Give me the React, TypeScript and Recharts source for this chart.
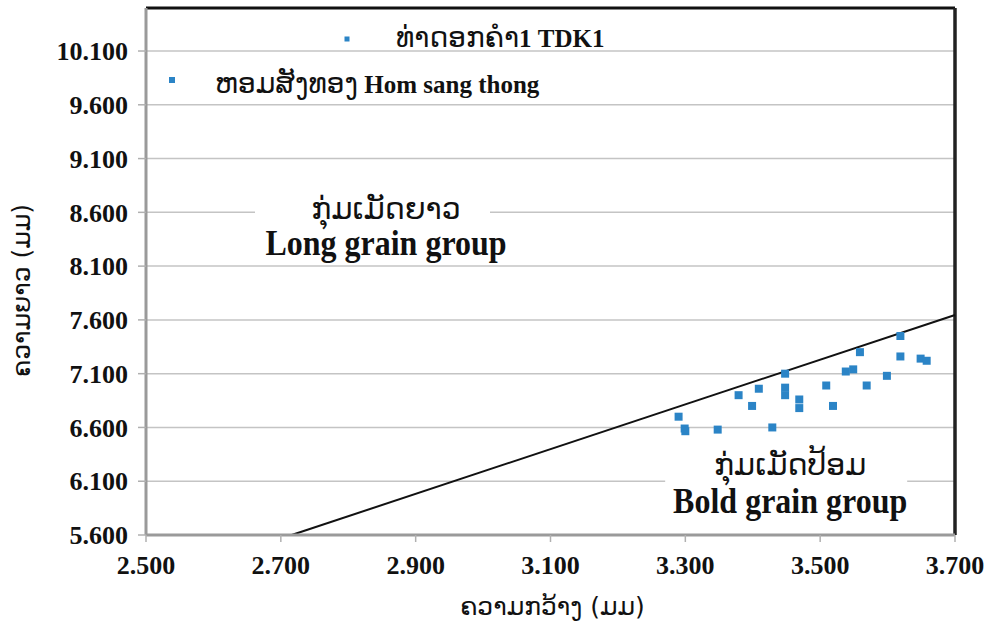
import React from 'react';
import {
  ScatterChart,
  Scatter,
  XAxis,
  YAxis,
  ZAxis,
  CartesianGrid,
  ReferenceLine,
  ReferenceDot,
  Legend,
} from 'recharts';

// ---------- data ----------
const xTicks = [2.5, 2.7, 2.9, 3.1, 3.3, 3.5, 3.7];
const yTicks = [5.6, 6.1, 6.6, 7.1, 7.6, 8.1, 8.6, 9.1, 9.6, 10.1];
const xDomain = [2.5, 3.7];
const yDomain = [5.6, 10.5];

const tdk1Name = ['ທ່າດອກຄຳ', '1 TDK1'];
const homName = ['ຫອມສັງທອງ', ' Hom sang thong'];

const tdk1Width = [3.29, 3.299, 3.348, 3.379, 3.399, 3.409, 3.429, 3.448, 3.448, 3.448, 3.469, 3.469, 3.509, 3.519, 3.538, 3.549, 3.559, 3.569, 3.599, 3.619, 3.619, 3.649, 3.658];
const tdk1Length = [6.70, 6.59, 6.58, 6.90, 6.80, 6.96, 6.60, 7.10, 6.97, 6.90, 6.86, 6.78, 6.99, 6.80, 7.12, 7.14, 7.30, 6.99, 7.08, 7.45, 7.26, 7.24, 7.22];
const homWidth = [3.30];
const homLength = [6.565];

const boundaryWidth = [2.716, 3.7];
const boundaryLength = [5.6, 7.646];

const longLabel = ['ກຸ່ມເມັດຍາວ', 'Long grain group'];
const longAnchor = { x: 2.856, y: 8.6 };
const boldLabel = ['ກຸ່ມເມັດປ້ອມ', 'Bold grain group'];
const boldAnchor = { x: 3.4555, y: 6.1 };

const xTitle = 'ຄວາມກວ້າງ (ມມ)';
const yTitle = 'ຄວາມຍາວ (ມມ)';

// ---------- styles ----------
const SERIF = "'Liberation Serif', 'Times New Roman', serif";
const LAO = "'DejaVu Sans', 'Noto Sans', sans-serif";
const BLUE = '#2b84c6';

const tdk1Data = tdk1Width.map((w, i) => ({ w, l: tdk1Length[i] }));
const homData = homWidth.map((w, i) => ({ w, l: homLength[i] }));

const fmt = (v: number) => v.toFixed(3);

const AnnotationShape = (lines: string[], gapLeft: number, gapRight: number, laoDy: number, engDy: number) =>
  (props: any) => {
    const { cx, cy } = props;
    if (cx == null || cy == null) return <g />;
    return (
      <g>
        <rect x={cx - gapLeft} y={cy - 18} width={gapLeft + gapRight} height={24} fill="#fff" />
        <text x={cx} y={cy + laoDy} textAnchor="middle" fontFamily={LAO} fontSize={30} fill="#111">
          {lines[0]}
        </text>
        <text
          x={cx}
          y={cy + engDy}
          textAnchor="middle"
          fontFamily={SERIF}
          fontWeight="bold"
          fontSize={32}
          fill="#111"
          transform={`translate(0 ${-(cy + engDy) * 0.12}) scale(1 1.12)`}
        >
          {lines[1]}
        </text>
      </g>
    );
  };

const LegendContent = () => (
  <svg width={992} height={110} style={{ position: 'absolute', left: 0, top: 0, overflow: 'visible' }}>
    <rect x={344.5} y={36.5} width={5} height={5} fill={BLUE} />
    <text x={396} y={47} fill="#111" fontSize={28}>
      <tspan fontFamily={LAO}>{tdk1Name[0]}</tspan>
      <tspan fontFamily={SERIF} fontWeight="bold" fontSize={25}>{tdk1Name[1]}</tspan>
    </text>
    <rect x={169} y={77} width={6} height={6} fill={BLUE} />
    <text x={215} y={93} fill="#111" fontSize={28}>
      <tspan fontFamily={LAO}>{homName[0]}</tspan>
      <tspan fontFamily={SERIF} fontWeight="bold" fontSize={25}>{homName[1]}</tspan>
    </text>
  </svg>
);

const XTitle = (props: any) => {
  const vb = props.viewBox || { x: 146, y: 535, width: 809, height: 90 };
  return (
    <text x={vb.x + vb.width / 2 + 2} y={vb.y + 80} textAnchor="middle" fontFamily={LAO} fontSize={25} fill="#111">
      {xTitle}
    </text>
  );
};

const YTitle = (props: any) => {
  const vb = props.viewBox || { x: 0, y: 8, width: 146, height: 527 };
  const cx = vb.x + 21;
  const cy = vb.y + vb.height / 2 + 19;
  return (
    <text
      x={cx}
      y={cy}
      transform={`rotate(-90 ${cx} ${cy})`}
      textAnchor="middle"
      dominantBaseline="central"
      fontFamily={LAO}
      fontSize={25}
      fill="#111"
    >
      {yTitle}
    </text>
  );
};

export default function App() {
  return (
    <div style={{ position: 'absolute', left: 0, top: 0, width: 992, height: 625, background: '#fff' }}>
      <ScatterChart width={992} height={625} margin={{ top: 8, right: 37, bottom: 0, left: 0 }}>
        <CartesianGrid horizontal vertical={false} stroke="#c4c4c4" strokeWidth={1.5} />
        <XAxis
          type="number"
          dataKey="w"
          domain={xDomain}
          ticks={xTicks}
          tickFormatter={fmt}
          allowDataOverflow
          height={90}
          axisLine={{ stroke: '#9a9a9a', strokeWidth: 3 }}
          tickLine={{ stroke: '#b0b0b0', strokeWidth: 1.5 }}
          tickSize={7}
          tickMargin={14}
          tick={{ fill: '#111', fontFamily: SERIF, fontWeight: 'bold', fontSize: 26 }}
          label={<XTitle />}
        />
        <YAxis
          type="number"
          dataKey="l"
          domain={yDomain}
          ticks={yTicks}
          tickFormatter={fmt}
          allowDataOverflow
          width={146}
          axisLine={{ stroke: '#9a9a9a', strokeWidth: 3 }}
          tickLine={{ stroke: '#b0b0b0', strokeWidth: 1.5 }}
          tickSize={8}
          tickMargin={10}
          tick={{ fill: '#111', fontFamily: SERIF, fontWeight: 'bold', fontSize: 26 }}
          label={<YTitle />}
        />
        <ZAxis range={[36, 36]} />
        <Legend content={<LegendContent />} wrapperStyle={{ position: 'absolute', left: 0, top: 0, width: 992, height: 0 }} />
        <ReferenceLine y={yDomain[1]} stroke="#111" strokeWidth={3} />
        <ReferenceLine x={xDomain[1]} stroke="#222" strokeWidth={3.5} />
        <ReferenceDot
          x={longAnchor.x}
          y={longAnchor.y}
          r={0}
          shape={AnnotationShape(longLabel, 131, 104, 7, 43)}
        />
        <ReferenceDot
          x={boldAnchor.x}
          y={boldAnchor.y}
          r={0}
          shape={AnnotationShape(boldLabel, 125, 117, -6, 32)}
        />
        <ReferenceLine
          segment={[
            { x: boundaryWidth[0], y: boundaryLength[0] },
            { x: boundaryWidth[1], y: boundaryLength[1] },
          ]}
          stroke="#111"
          strokeWidth={2}
        />
        <Scatter name="TDK1" data={tdk1Data} fill={BLUE} shape="square" isAnimationActive={false} />
        <Scatter name="Hom sang thong" data={homData} fill={BLUE} shape="square" isAnimationActive={false} />
      </ScatterChart>
    </div>
  );
}
